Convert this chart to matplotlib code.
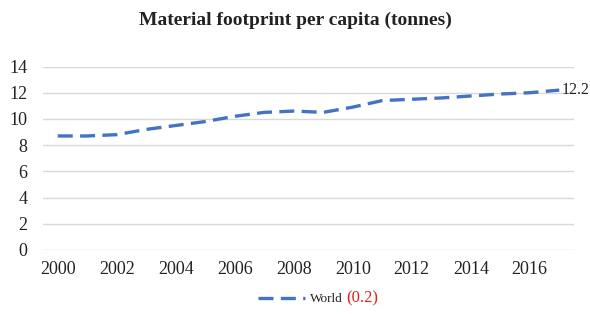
import matplotlib
matplotlib.use("Agg")
import matplotlib.pyplot as plt
from matplotlib.lines import Line2D

years = [2000, 2001, 2002, 2003, 2004, 2005, 2006, 2007, 2008,
         2009, 2010, 2011, 2012, 2013, 2014, 2015, 2016, 2017]
world = [8.7, 8.7, 8.8, 9.2, 9.5, 9.8, 10.2, 10.5, 10.6,
         10.5, 10.9, 11.4, 11.5, 11.6, 11.75, 11.9, 12.0, 12.2]
xticks = [2000, 2002, 2004, 2006, 2008, 2010, 2012, 2014, 2016]
yticks = [0, 2, 4, 6, 8, 10, 12, 14]
title = "Material footprint per capita (tonnes)"
series_name = "World"
legend_note = "(0.2)"
last_label = "12.2"

plt.rcParams['font.family'] = ['Liberation Serif', 'DejaVu Serif']

W, H = 590, 314
fig = plt.figure(figsize=(W / 100, H / 100), dpi=100)
ax = fig.add_axes([43 / W, 1 - 250 / H, (574 - 43) / W, (250 - 66.5) / H])

color = '#4472C4'
ax.plot(years, world, color=color, lw=2.4, dashes=(4.5, 2.2), zorder=3)
ax.annotate(last_label, (years[-1], world[-1]), xytext=(2, 0),
            textcoords='offset points', va='center', ha='left',
            fontsize=11.5, color='#222222')

ax.set_xlim(1999.5, 2017.5)
ax.set_ylim(0, 14)
ax.set_xticks(xticks)
ax.set_yticks(yticks)
ax.tick_params(axis='both', length=0, labelsize=13, colors='#222222')
ax.tick_params(axis='y', pad=11)
ax.tick_params(axis='x', pad=8)
ax.grid(axis='y', color='#d9d9d9', lw=1)
ax.set_axisbelow(True)
for s in ax.spines.values():
    s.set_visible(False)

fig.text(0.5, 1 - 20 / H, title, ha='center', va='center',
         fontsize=14, fontweight='bold', color='#222222')

# legend
lx0, lx1, ly = 258 / W, 305 / W, 1 - 298 / H
fig.add_artist(Line2D([lx0, lx1], [ly, ly], color=color, lw=2.4,
                      dashes=(4.5, 2.2), transform=fig.transFigure))
fig.text(310 / W, ly - 0.004, series_name, ha='left', va='center',
         fontsize=9.5, color='#222222')
fig.text(346 / W, ly, legend_note, ha='left', va='center',
         fontsize=12, color='#e0201b')

fig.savefig('out.png', dpi=100)
